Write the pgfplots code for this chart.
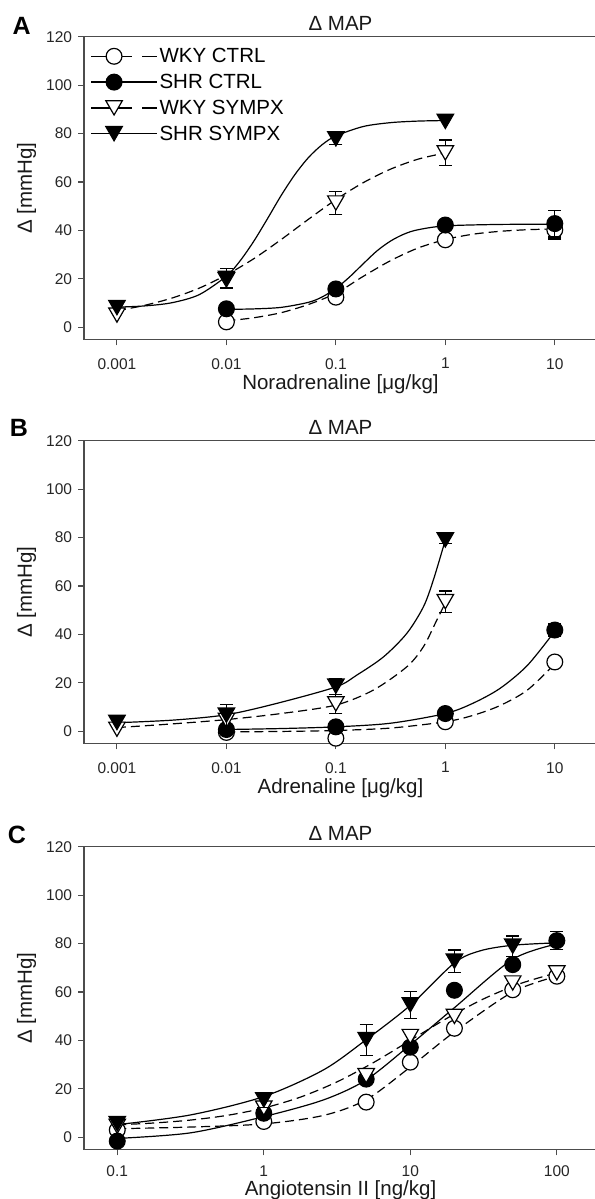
\documentclass[border=0pt]{standalone}
\usepackage{fontspec}
\setmainfont{Liberation Sans}
\usepackage{pgfplots}
\pgfplotsset{compat=1.18}

\pgfplotsset{
  mypanel/.style={
    scale only axis, width=513bp, height=302.6bp,
    clip mode=individual,
    ymin=-5, ymax=120, ytick={0,20,40,60,80,100,120},
    xminorticks=false, yminorticks=false,
    axis line style={black!70, line width=1.1bp},
    tick style={black!70, line width=1.1bp},
    tick align=outside, major tick length=6bp,
    xtick pos=left, ytick pos=left,
    tick label style={font=\fontsize{15.5bp}{18bp}\selectfont, text=black!85},
    xticklabel style={inner sep=0pt, yshift=-12.7bp},
    yticklabel style={xshift=-2.5bp},
    /pgf/number format/assume math mode=true,
    label style={font=\fontsize{20.5bp}{24bp}\selectfont, text=black!90, inner sep=0pt},
    xlabel style={at={(axis description cs:0.5,-0.165)}, anchor=base},
    ylabel style={at={(axis description cs:-0.1119,0.5)}, anchor=center},
    ylabel={Δ [mmHg]},
    title={Δ MAP},
    every axis title/.style={at={(axis description cs:0.5,1)}, anchor=base, yshift=6.5bp,
      font=\fontsize{20.5bp}{24bp}\selectfont, text=black!90},
  },
  mycurve/.style={black, line width=1.2bp, smooth, no markers, forget plot},
  mydcurve/.style={mycurve, dash pattern=on 9bp off 5bp},
  mWc/.style={only marks, forget plot, mark=*, mark size=7.9bp,
    mark options={solid, draw=black, fill=white, line width=1.2bp}},
  mSc/.style={only marks, forget plot, mark=*, mark size=7.9bp,
    mark options={solid, draw=black, fill=black, line width=1.2bp}},
  mWs/.style={only marks, forget plot, mark=triangle*, mark size=9.5bp,
    mark options={solid, yshift=2.4bp, rotate=180, draw=black, fill=white, line width=1.2bp}},
  mSs/.style={only marks, forget plot, mark=triangle*, mark size=9.5bp,
    mark options={solid, yshift=2.4bp, rotate=180, draw=black, fill=black, line width=1.2bp}},
  myerrb/.style={draw=none, mark=none, forget plot,
    error bars/y dir=both, error bars/y explicit,
    error bars/error bar style={draw=black, line width=1.2bp, solid},
    error bars/error mark options={draw=black, mark size=6.5bp, line width=1.2bp, rotate=90}},
}

\begin{document}
\begin{tikzpicture}
\useasboundingbox (0bp,0bp) rectangle (595bp,-1199bp);

% ---------------- Panel A ----------------
\begin{axis}[xmode=log, mypanel, at={(84bp,-339.3bp)}, anchor=south west,
  xmin=0.0005, xmax=24.3,
  xtick={0.001,0.01,0.1,1,10}, xticklabels={0.001,0.01,0.1,1,10},
  xlabel={Noradrenaline [μg/kg]},
  legend style={at={(axis description cs:0.013,0.967)}, anchor=north west,
    draw=none, fill=none, inner sep=0pt,
    font=\fontsize{20.5bp}{24bp}\selectfont, row sep=7bp,
    nodes={inner sep=1.5bp}},
  legend cell align=left,
  legend image code/.code={\draw[mark repeat=2,mark phase=2,#1] plot coordinates {(0bp,0bp) (22.6bp,0bp) (66bp,0bp)};},
]
\addlegendimage{black, line width=1.2bp, dash pattern=on 41bp off 10bp on 20bp off 0bp, mark=*, mark size=7.9bp, mark options={solid, fill=white, line width=1.2bp}}
\addlegendentry{WKY CTRL}
\addlegendimage{black, line width=1.2bp, mark=*, mark size=7.9bp, mark options={solid, fill=black, line width=1.2bp}}
\addlegendentry{SHR CTRL}
\addlegendimage{black, line width=1.2bp, dash pattern=on 41bp off 10bp on 20bp off 0bp, mark=triangle*, mark size=9.5bp, mark options={solid, yshift=2.4bp, rotate=180, fill=white, line width=1.2bp}}
\addlegendentry{WKY SYMPX}
\addlegendimage{black, line width=1.2bp, mark=triangle*, mark size=9.5bp, mark options={solid, yshift=2.4bp, rotate=180, fill=black, line width=1.2bp}}
\addlegendentry{SHR SYMPX}

% curves
\addplot[mydcurve] coordinates {(0.01,2.6)(0.017783,3.9)(0.031623,6.0)(0.056234,9.4)(0.1,14.0)(0.177828,21.0)(0.316228,27.5)(0.562341,32.7)(1,36.2)(1.778279,38.4)(3.162278,39.6)(5.623413,40.27)(10,40.6)};
\addplot[mycurve] coordinates {(0.01,7.37)(0.017783,7.56)(0.031623,8.19)(0.056234,10.28)(0.074989,12.5)(0.1,16.0)(0.133352,20.74)(0.177828,26.2)(0.237137,31.5)(0.316228,35.6)(0.421697,38.5)(0.562341,40.25)(1,41.85)(3.162278,42.45)(10,42.5)};
\addplot[mydcurve] coordinates {(0.001,6.8)(0.001778,9.0)(0.003162,12.0)(0.005623,16.1)(0.01,21.6)(0.017783,28.29)(0.031623,36.2)(0.056234,44.6)(0.1,52.7)(0.177828,59.7)(0.316228,65.3)(0.562341,69.4)(1,72.0)};
\addplot[mycurve] coordinates {(0.001,8.29)(0.001778,8.78)(0.003162,10.09)(0.005623,13.41)(0.01,21.1)(0.013335,27.4)(0.017783,35.5)(0.023714,44.8)(0.031623,54.4)(0.04217,63.0)(0.056234,70.1)(0.074989,75.4)(0.1,79.0)(0.177828,82.9)(0.316228,84.5)(0.562341,85.14)(1,85.37)};
% WKY CTRL
\addplot[myerrb] coordinates {(10,40.2) +- (0,3.8)};
\addplot[mWc] coordinates {(0.01,2.2)(0.1,12.4)(1,36.1)(10,40.2)};
% SHR CTRL
\addplot[myerrb] coordinates {(1,42.2) +- (0,2) (10,42.8) +- (0,5.5)};
\addplot[mSc] coordinates {(0.01,7.6)(0.1,15.8)(1,42.2)(10,42.8)};
% WKY SYMPX
\addplot[myerrb] coordinates {(0.01,19.5) +- (0,3) (0.1,51.3) +- (0,4.7) (1,72) +- (0,5.3)};
\addplot[mWs] coordinates {(0.001,5)(0.01,19.5)(0.1,51.3)(1,72)};
% SHR SYMPX
\addplot[myerrb] coordinates {(0.01,20.2) +- (0,4) (0.1,77.8) +- (0,2.2)};
\addplot[mSs] coordinates {(0.001,8.1)(0.01,20.2)(0.1,77.8)(1,85)};
\node[font=\bfseries\fontsize{25bp}{30bp}\selectfont, anchor=center] at (axis description cs:-0.1214,1.0354) {A};
\end{axis}

% ---------------- Panel B ----------------
\begin{axis}[xmode=log, mypanel, at={(84bp,-743.3bp)}, anchor=south west,
  xmin=0.0005, xmax=24.3,
  xtick={0.001,0.01,0.1,1,10}, xticklabels={0.001,0.01,0.1,1,10},
  xlabel={Adrenaline [μg/kg]},
]
\addplot[mydcurve] coordinates {(0.01,-0.3)(0.031623,-0.1)(0.1,0.3)(0.316228,1.3)(1,3.9)(1.778279,6.5)(3.162278,10.6)(5.623413,17)(10,27.8)};
\addplot[mycurve] coordinates {(0.01,0.7)(0.031623,1.1)(0.1,1.8)(0.316228,3.3)(1,7.3)(1.778279,11.5)(3.162278,17.7)(5.623413,27.2)(10,41.3)};
\addplot[mydcurve] coordinates {(0.001,1.5)(0.003162,3.0)(0.01,4.8)(0.031623,7.3)(0.1,10.8)(0.2203,17)(0.4446,26.6)(0.631,34.9)(0.836,45.9)(1,53)};
\addplot[mycurve] coordinates {(0.001,3.5)(0.00329,4.6)(0.01,6.8)(0.0289,11.5)(0.1,18.3)(0.1556,23.2)(0.2723,30.7)(0.4446,40.4)(0.631,51.4)(0.778,62.5)(1,79)};
\addplot[mWc] coordinates {(0.01,-0.5)(0.1,-2.9)(1,3.9)(10,28.6)};
\addplot[myerrb] coordinates {(10,41.8) +- (0,2.5)};
\addplot[mSc] coordinates {(0.01,0.7)(0.1,1.8)(1,7.3)(10,41.8)};
\addplot[myerrb] coordinates {(0.1,11.3) +- (0,3.9) (1,53.5) +- (0,4.4)};
\addplot[mWs] coordinates {(0.001,0.8)(0.01,4.5)(0.1,11.3)(1,53.5)};
\addplot[myerrb] coordinates {(0.01,6.6) +- (0,4.5) (0.1,18.6) +- (0,3.3) (1,79) +- (0,1.5)};
\addplot[mSs] coordinates {(0.001,3.6)(0.01,6.6)(0.1,18.6)(1,79)};
\node[font=\bfseries\fontsize{25bp}{30bp}\selectfont, anchor=center] at (axis description cs:-0.1267,1.041) {B};
\end{axis}

% ---------------- Panel C ----------------
\begin{axis}[xmode=log, mypanel, at={(84bp,-1149.3bp)}, anchor=south west,
  xmin=0.0593, xmax=188,
  xtick={0.1,1,10,100}, xticklabels={0.1,1,10,100},
  xticklabel style={yshift=2.6bp},
  xlabel={Angiotensin II [ng/kg]},
  xlabel style={at={(axis description cs:0.5,-0.151)}, anchor=base},
]
\addplot[mydcurve] coordinates {(0.1,3.5)(0.316,4.2)(1,5.5)(2.553,9)(5,15.5)(10,29)(20,43.5)(50,60)(100,66.5)};
\addplot[mycurve] coordinates {(0.1,-0.5)(0.316,1.8)(1,8.5)(2.553,15.4)(5,23.7)(10,38.2)(20,53.5)(50,73.5)(100,79.8)};
\addplot[mydcurve] coordinates {(0.1,5.12)(0.177828,5.87)(0.316228,7.08)(0.562341,9.02)(1,12.05)(1.778279,16.56)(3.162278,22.86)(5.623413,30.88)(10,40)(17.78279,49.12)(31.62278,57.14)(56.23413,63.44)(100,67.95)};
\addplot[mycurve] coordinates {(0.1,5.2)(0.316,9.2)(1,16.8)(2.553,27.8)(5,40.3)(10,54.5)(20,72)(30,77)(50,79.3)(100,80.3)};
\addplot[mWc] coordinates {(0.1,3)(1,6.5)(5,14.5)(10,31)(20,45)(50,60.9)(100,66.5)};
\addplot[myerrb] coordinates {(100,81.2) +- (0,3.8)};
\addplot[mSc] coordinates {(0.1,-1.6)(1,9.9)(5,24)(10,37.2)(20,60.7)(50,71.3)(100,81.2)};
\addplot[mWs] coordinates {(0.1,4.5)(1,12)(5,25.4)(10,41.6)(20,49.9)(50,63.7)(100,67.9)};
\addplot[myerrb] coordinates {(1,15.4) +- (0,3) (5,40.3) +- (0,6.4) (10,54.7) +- (0,5.5) (20,72.7) +- (0,4.6) (50,78.9) +- (0,4.2)};
\addplot[mSs] coordinates {(0.1,5.6)(1,15.4)(5,40.3)(10,54.7)(20,72.7)(50,78.9)};
\node[font=\bfseries\fontsize{25bp}{30bp}\selectfont, anchor=center] at (axis description cs:-0.1306,1.0387) {C};
\end{axis}
\end{tikzpicture}
\end{document}
